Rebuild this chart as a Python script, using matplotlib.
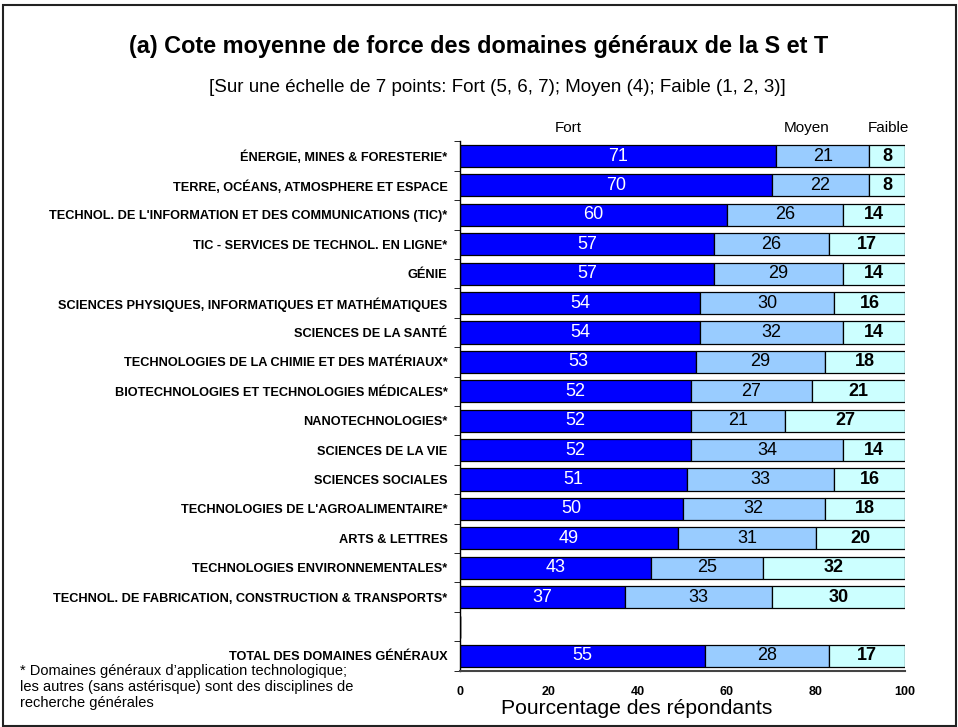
import matplotlib
matplotlib.use("Agg")
import matplotlib.pyplot as plt
from matplotlib.patches import Rectangle
import numpy as np

plt.rcParams['font.family'] = ['Liberation Sans', 'DejaVu Sans']

categories = [
    "ÉNERGIE, MINES & FORESTERIE*",
    "TERRE, OCÉANS, ATMOSPHERE ET ESPACE",
    "TECHNOL. DE L'INFORMATION ET DES COMMUNICATIONS (TIC)*",
    "TIC - SERVICES DE TECHNOL. EN LIGNE*",
    "GÉNIE",
    "SCIENCES PHYSIQUES, INFORMATIQUES ET MATHÉMATIQUES",
    "SCIENCES DE LA SANTÉ",
    "TECHNOLOGIES DE LA CHIMIE ET DES MATÉRIAUX*",
    "BIOTECHNOLOGIES ET TECHNOLOGIES MÉDICALES*",
    "NANOTECHNOLOGIES*",
    "SCIENCES DE LA VIE",
    "SCIENCES SOCIALES",
    "TECHNOLOGIES DE L'AGROALIMENTAIRE*",
    "ARTS & LETTRES",
    "TECHNOLOGIES ENVIRONNEMENTALES*",
    "TECHNOL. DE FABRICATION, CONSTRUCTION & TRANSPORTS*",
]
total_label = "TOTAL DES DOMAINES GÉNÉRAUX"

fort = [71, 70, 60, 57, 57, 54, 54, 53, 52, 52, 52, 51, 50, 49, 43, 37]
moyen = [21, 22, 26, 26, 29, 30, 32, 29, 27, 21, 34, 33, 32, 31, 25, 33]
faible = [8, 8, 14, 17, 14, 16, 14, 18, 21, 27, 14, 16, 18, 20, 32, 30]
total_fort, total_moyen, total_faible = 55, 28, 17

series_names = ["Fort", "Moyen", "Faible"]
xticks = [0, 20, 40, 60, 80, 100]

# assemble rows (blank slot before total)
labels = categories + [""] + [total_label]
F = fort + [np.nan] + [total_fort]
M = moyen + [np.nan] + [total_moyen]
W = faible + [np.nan] + [total_faible]
n = len(labels)
y = np.arange(n)

fig = plt.figure(figsize=(9.58, 7.27), dpi=100)
ax = fig.add_axes([460/958, 1-670.7/727, 445/958, (670.7-141.3)/727])

colors = ["#0000FF", "#99CCFF", "#CCFFFF"]
h = 0.75
left = np.zeros(n)
for vals, col, name in zip([F, M, W], colors, series_names):
    v = np.array(vals, dtype=float)
    ax.barh(y, np.nan_to_num(v), left=left, height=h, color=col,
            edgecolor="black", linewidth=0.9)
    for yi, (l, val) in enumerate(zip(left, v)):
        if np.isnan(val):
            continue
        cx = l + val / 2
        if name == "Fort":
            ax.text(cx, yi, f"{int(val)}", color="white", ha="center", va="center", fontsize=13)
        elif name == "Moyen":
            ax.text(cx, yi, f"{int(val)}", color="black", ha="center", va="center", fontsize=13)
        else:
            ax.text(cx, yi, f"{int(val)}", color="black", ha="center", va="center",
                    fontsize=13, fontweight="bold")
    left = left + np.nan_to_num(v)

ax.set_xlim(0, 100)
ax.set_ylim(n - 0.5, -0.5)
ax.set_yticks(y)
ax.set_yticklabels(labels, fontsize=9.2, fontweight="bold")
ax.set_yticks(np.arange(-0.5, n, 1.0), minor=True)
ax.tick_params(axis="y", which="major", length=0, pad=9)
ax.tick_params(axis="y", which="minor", length=4, direction="out")
ax.set_xticks(xticks)
ax.set_xticklabels([str(t) for t in xticks], fontsize=9, fontweight="bold")
ax.tick_params(axis="x", length=0, pad=11)
ax.spines["top"].set_visible(False)
ax.spines["right"].set_visible(False)
ax.spines["left"].set_linewidth(1.0)
ax.spines["bottom"].set_linewidth(1.5)
ax.spines["bottom"].set_color("#444444")

# column headers
ax.text(24.3, -0.95, "Fort", ha="center", va="center", fontsize=11)
ax.text(77.8, -0.95, "Moyen", ha="center", va="center", fontsize=11)
ax.text(96.3, -0.95, "Faible", ha="center", va="center", fontsize=11)

fig.text(479/958, 1-47/727, "(a) Cote moyenne de force des domaines généraux de la S et T",
         ha="center", va="center", fontsize=16.9, fontweight="bold")
fig.text(497/958, 1-87/727, "[Sur une échelle de 7 points: Fort (5, 6, 7); Moyen (4); Faible (1, 2, 3)]",
         ha="center", va="center", fontsize=13.5)
fig.text(637/958, 1-709/727, "Pourcentage des répondants", ha="center", va="center", fontsize=15.2)
fig.text(20/958, 1-687/727,
         "* Domaines généraux d’application technologique;\nles autres (sans astérisque) sont des disciplines de\nrecherche générales",
         ha="left", va="center", fontsize=10.5, linespacing=1.15)

fig.patches.append(Rectangle((3/958, 1-726/727), 953/958, 721/727, transform=fig.transFigure,
                             fill=False, edgecolor="#222222", linewidth=1.5))

fig.savefig("out.png", dpi=100)
